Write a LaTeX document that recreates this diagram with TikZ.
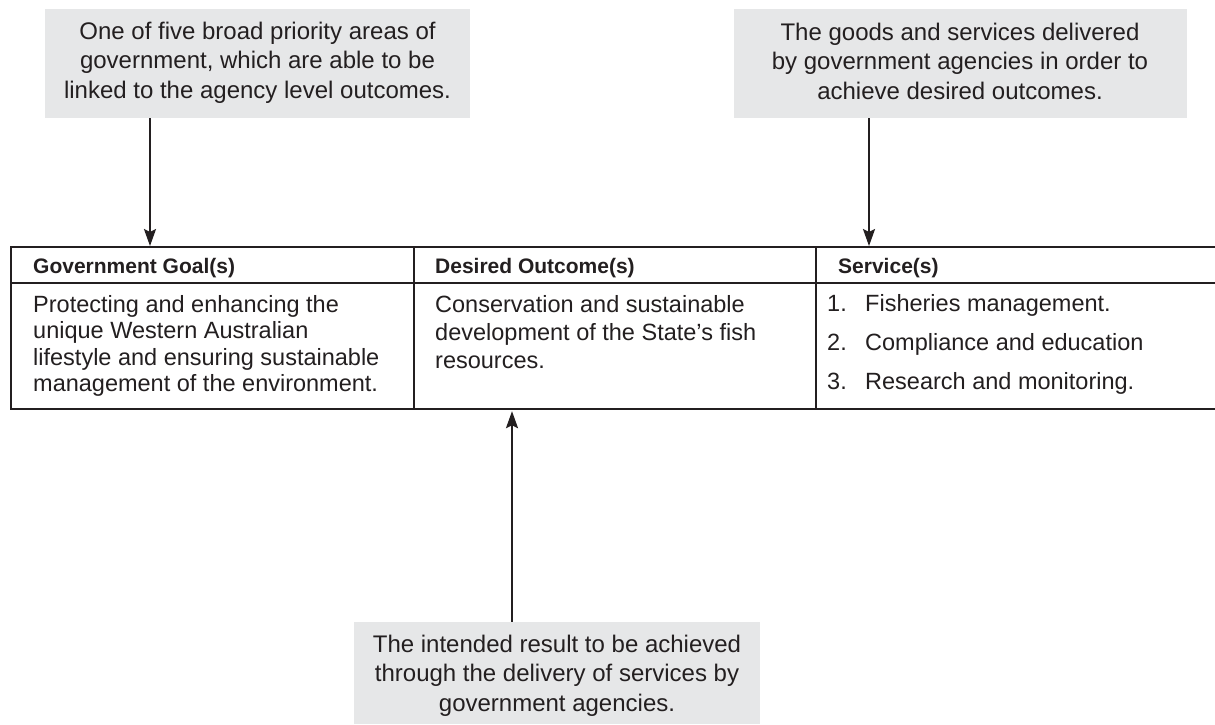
\documentclass[tikz,border=0pt]{standalone}
\usepackage{fontspec}
\setmainfont{Liberation Sans}
\usetikzlibrary{arrows.meta}
\definecolor{ink}{HTML}{231F20}
\definecolor{boxgray}{HTML}{E6E7E8}
\begin{document}
\begin{tikzpicture}[x=1pt,y=-1pt,
  note/.style={fill=boxgray, draw=none, inner sep=0pt},
  notetext/.style={align=center, text=ink, inner sep=0pt, anchor=north, font=\fontsize{24}{29.5}\selectfont},
  cell/.style={draw=ink, line width=2.2pt, inner sep=0pt, anchor=north west},
  head/.style={text=ink, inner sep=0pt, anchor=base west, font=\fontsize{21}{25}\selectfont\bfseries},
  body/.style={text=ink, inner sep=0pt, anchor=north west, align=left},
  arr/.style={draw=ink, line width=2.2pt, -{Stealth[length=17pt,width=12pt,inset=3pt]}}]
\useasboundingbox (0,0) rectangle (1215,724);
\clip (0,0) rectangle (1215,724);
\fill[white] (0,0) rectangle (1215,724);

% note boxes
\node[note, minimum width=425, minimum height=109] (g1) at (257.5,63.5) {};
\node[notetext] (g1t) at (257.5,19) {\rule{0pt}{20pt}One of five broad priority areas of\\government, which are able to be\\linked to the agency level outcomes.};
\node[note, minimum width=453, minimum height=109] (g2) at (960.5,63.5) {};
\node[notetext] (g2t) at (960,20) {\rule{0pt}{20pt}The goods and services delivered\\by government agencies in order to\\achieve desired outcomes.};
\node[note, minimum width=406, minimum height=102] (g3) at (557,673) {};
\node[notetext] (g3t) at (557,632) {\rule{0pt}{20pt}The intended result to be achieved\\through the delivery of services by\\government agencies.};

% table cells
\node[cell, minimum width=403, minimum height=36] (h1) at (10,246) {};
\node[cell, minimum width=402, minimum height=36] (h2) at (413,246) {};
\node[cell, minimum width=420, minimum height=36] (h3) at (815,246) {};
\node[cell, minimum width=403, minimum height=126] (b1) at (10,282) {};
\node[cell, minimum width=402, minimum height=126] (b2) at (413,282) {};
\node[cell, minimum width=420, minimum height=126] (b3) at (815,282) {};

% headers
\node[head] (h1t) at (33,273) {Government Goal(s)};
\node[head] (h2t) at (435,273) {Desired Outcome(s)};
\node[head] (h3t) at (838,273) {Service(s)};

% body text
\node[body, font=\fontsize{23.5}{26.5}\selectfont] (b1t) at (33,292) {\rule{0pt}{20pt}Protecting and enhancing the\\unique Western Australian\\lifestyle and ensuring sustainable\\management of the environment.};
\node[body, font=\fontsize{23.5}{28.3}\selectfont] (b2t) at (435,292) {\rule{0pt}{20pt}Conservation and sustainable\\development of the State’s fish\\resources.};
\node[body, font=\fontsize{23.5}{39}\selectfont] (b3t) at (827,291) {\rule{0pt}{20pt}\makebox[38pt][l]{1.}Fisheries management.\\\makebox[38pt][l]{2.}Compliance and education\\\makebox[38pt][l]{3.}Research and monitoring.};

% connectors
\coordinate (x1) at (150,0);
\coordinate (x2) at (869,0);
\coordinate (x3) at (512,0);
\draw[arr] (g1.south -| x1) -- (h1.north -| x1);
\draw[arr] (g2.south -| x2) -- (h3.north -| x2);
\draw[arr] (g3.north -| x3) -- ([yshift=-1pt]b2.south -| x3);
\end{tikzpicture}
\end{document}
